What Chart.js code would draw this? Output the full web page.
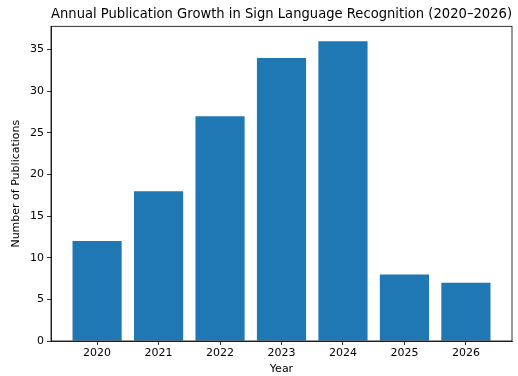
<!DOCTYPE html>
<html><head><meta charset="utf-8">
<script src="https://cdn.jsdelivr.net/npm/chart.js@4"></script>
<style>html,body{margin:0;padding:0;background:#fff}#w{width:518px;height:376px}</style>
</head><body><div id="w"><canvas id="c" width="518" height="376"></canvas></div>
<script>
const years = ["2020","2021","2022","2023","2024","2025","2026"];
const publications = [12, 18, 27, 34, 36, 8, 7];
const yTicks = [0, 5, 10, 15, 20, 25, 30, 35];

const font = {family: "'DejaVu Sans', sans-serif", size: 11};
const frame = {
  id: 'frame',
  afterDraw(chart) {
    const {ctx, chartArea: a} = chart;
    ctx.save();
    ctx.strokeStyle = '#000';
    ctx.lineWidth = 0.8;
    ctx.strokeRect(a.left, a.top, a.right - a.left, a.bottom - a.top);
    ctx.restore();
  }
};
new Chart(document.getElementById('c'), {
  type: 'bar',
  data: {
    datasets: [{
      data: publications.map((v, i) => ({x: i, y: v})),
      backgroundColor: '#1f77b4',
      borderWidth: 0,
      barPercentage: 0.8,
      categoryPercentage: 1.0
    }]
  },
  options: {
    responsive: false,
    animation: false,
    devicePixelRatio: 1,
    layout: {padding: {left: 0, right: 6, top: 0, bottom: 0}},
    plugins: {
      legend: {display: false},
      tooltip: {enabled: false},
      title: {
        display: true,
        fullSize: false,
        text: 'Annual Publication Growth in Sign Language Recognition (2020–2026)',
        color: '#000',
        font: {family: "'DejaVu Sans', sans-serif", size: 13.6, weight: 'normal', lineHeight: 1.2},
        padding: {top: 6, bottom: 4}
      }
    },
    scales: {
      x: {
        type: 'linear',
        offset: false,
        min: -0.75, max: 6.75,
        afterBuildTicks: s => { s.ticks = years.map((_, i) => ({value: i})); },
        afterFit: s => { s.height = 35; },
        ticks: {callback: v => years[v], color: '#000', font, padding: 2, maxRotation: 0, autoSkip: false},
        grid: {offset: false, drawOnChartArea: false, drawTicks: true, tickLength: 4, color: '#000', lineWidth: 0.8},
        border: {display: true, color: '#000', width: 0.8},
        title: {display: true, text: 'Year', color: '#000', font, padding: {top: 0, bottom: 0}}
      },
      y: {
        min: 0, max: 37.8,
        afterBuildTicks: s => { s.ticks = yTicks.map(v => ({value: v})); },
        afterFit: s => { s.width = 51; },
        ticks: {color: '#000', font, padding: 3},
        grid: {drawOnChartArea: false, drawTicks: true, tickLength: 4, color: '#000', lineWidth: 0.8},
        border: {display: true, color: '#000', width: 0.8},
        title: {display: true, text: 'Number of Publications', color: '#000', font, padding: {top: 10, bottom: 0}}
      }
    }
  },
  plugins: [frame]
});
</script></body></html>
